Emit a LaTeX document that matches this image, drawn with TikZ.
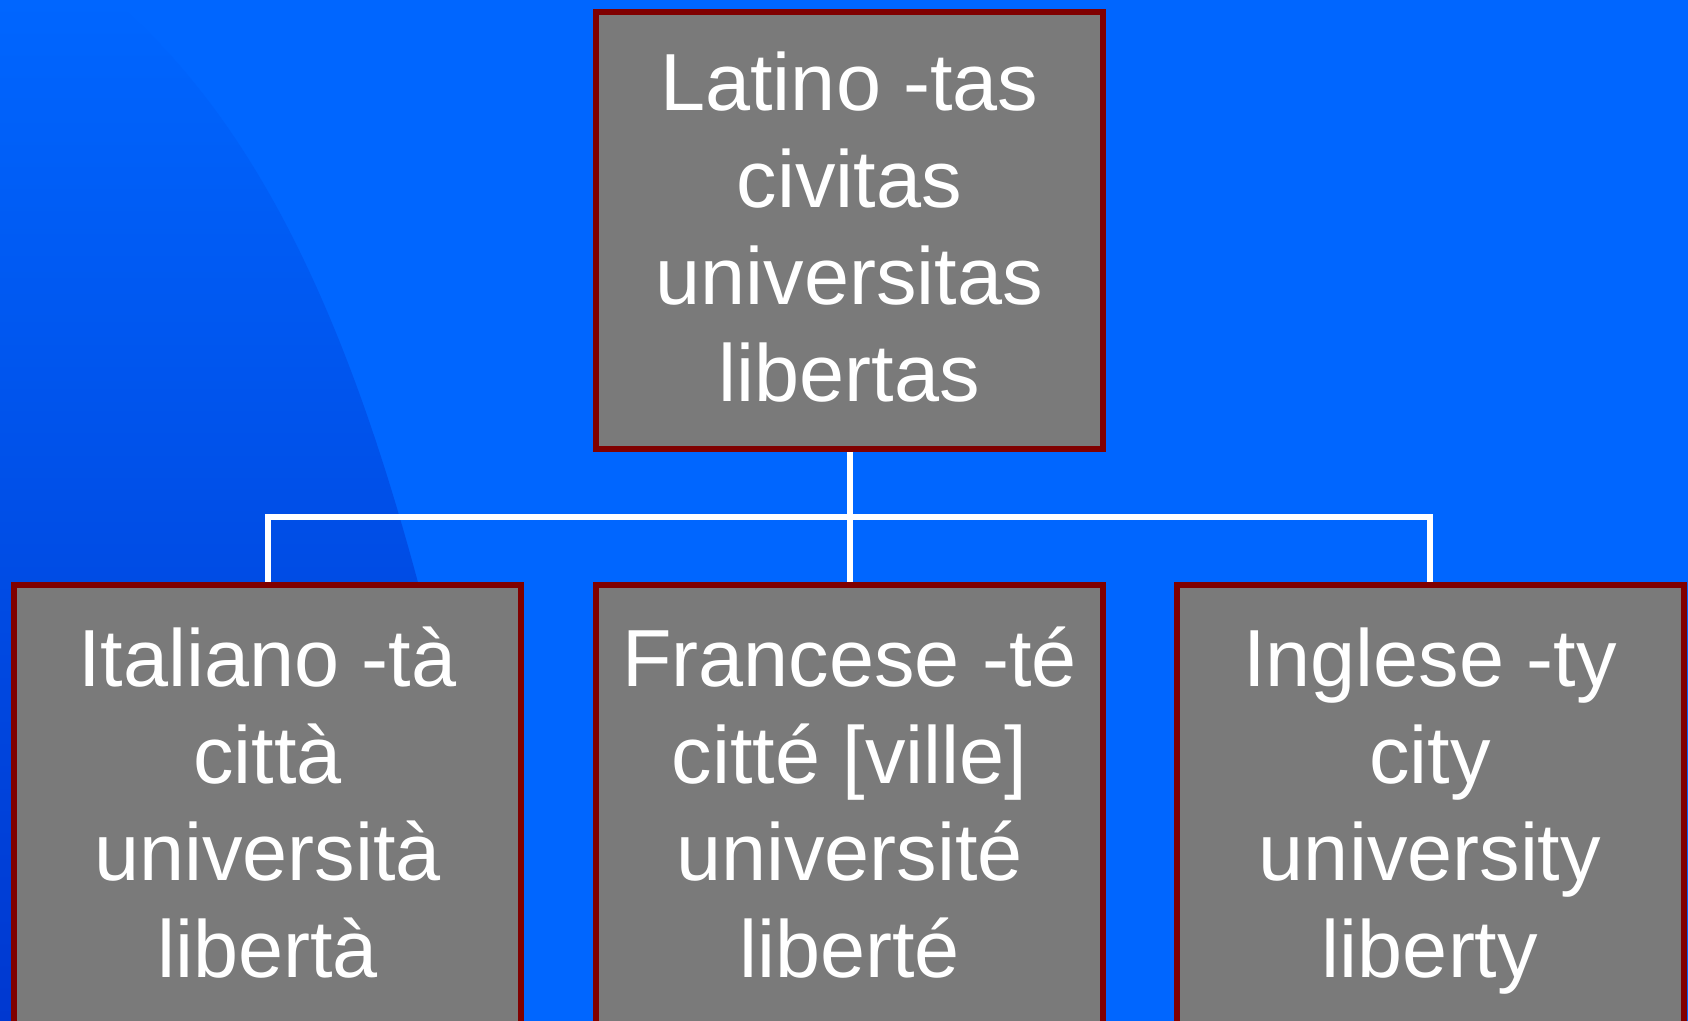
\documentclass[tikz,border=0pt]{standalone}
\usepackage{fontspec}
\setmainfont{Liberation Sans}
\usetikzlibrary{calc}
\definecolor{bgblue}{RGB}{0,102,255}
\definecolor{bgdark}{RGB}{0,56,208}
\definecolor{boxgray}{RGB}{122,122,122}
\definecolor{boxred}{RGB}{128,0,0}
\begin{document}
\begin{tikzpicture}[x=0.5pt,y=-0.5pt,
  box/.style={draw=boxred, line width=3pt, fill=boxgray, minimum width=253.5pt, inner sep=0pt, anchor=north},
  boxtext/.style={text=white, font=\fontsize{40.5}{48.5}\selectfont, align=center, inner sep=0pt, outer sep=0pt, anchor=north},
  link/.style={draw=white, line width=3pt, line join=miter}]
\useasboundingbox (0,0) rectangle (1688,1021);
\clip (0,0) rectangle (1688,1021);
\fill[bgblue] (0,0) rectangle (1688,1021);
\shade[top color=bgblue, bottom color=bgdark] (0,0) -- (113,0) .. controls (353,200) and (435,621) .. (515,1021) -- (0,1021) -- cycle;

\node[box, minimum height=218.5pt] (lat) at (849.5,9) {};
\node[box, minimum height=260pt] (ita) at (267.5,582) {};
\node[box, minimum height=260pt] (fra) at (849.5,582) {};
\node[box, minimum height=260pt] (ing) at (1430,582) {};

\coordinate (bus) at (849.5,517);
\draw[link] (ita.north) |- (bus) -| (ing.north);
\draw[link] (lat.south) -- (fra.north);

\node[boxtext] (latT) at ($(lat.north)+(0,34)$) {\strut Latino -tas\\\strut civitas\\\strut universitas\\\strut libertas};
\node[boxtext] (itaT) at ($(ita.north)+(0,37)$) {\strut Italiano -tà\\\strut città\\\strut università\\\strut libertà};
\node[boxtext] (fraT) at ($(fra.north)+(0,37)$) {\strut Francese -té\\\strut citté [ville]\\\strut université\\\strut liberté};
\node[boxtext] (ingT) at ($(ing.north)+(0,37)$) {\strut Inglese -ty\\\strut city\\\strut university\\\strut liberty};
\end{tikzpicture}
\end{document}
